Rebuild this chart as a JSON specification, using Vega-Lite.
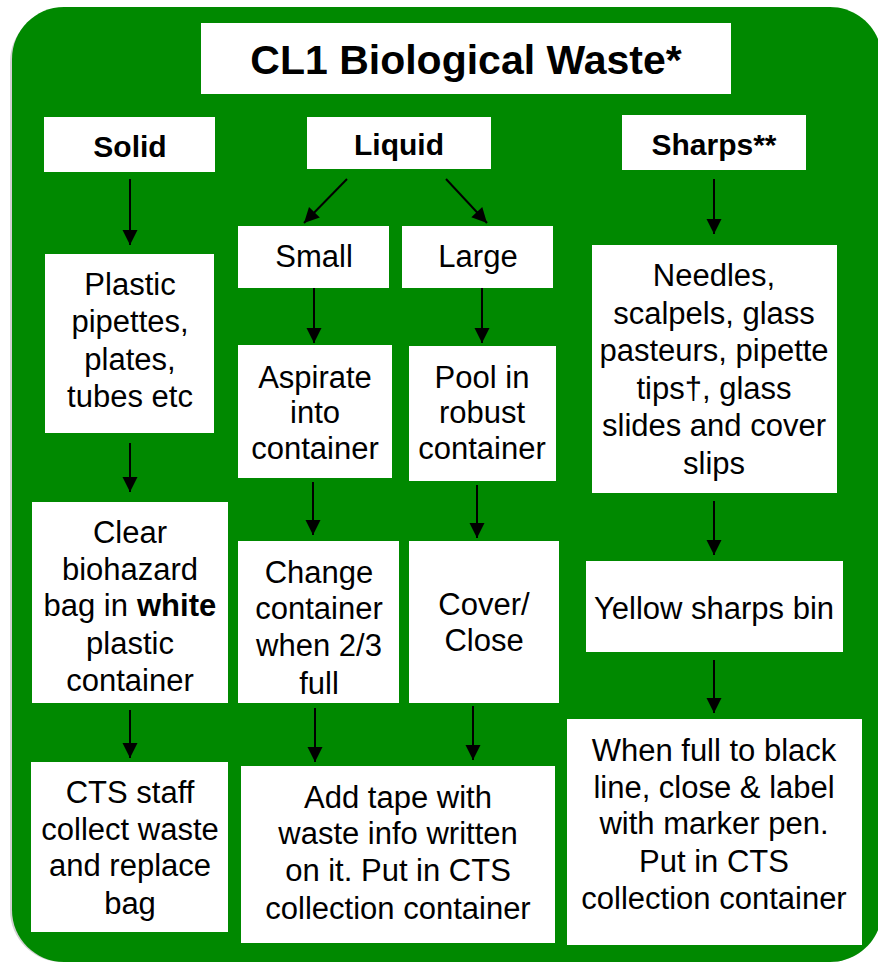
{
  "$schema": "https://vega.github.io/schema/vega-lite/v6.json",
  "width": 878,
  "height": 965,
  "autosize": "none",
  "padding": 0,
  "background": "white",
  "config": {"view": {"stroke": null}},
  "datasets": {
    "bg": [{"x1": 12, "x2": 882, "y1": 7, "y2": 962}],
    "boxes": [
      {"id": "title", "x1": 201, "x2": 731, "y1": 23, "y2": 94},
      {"id": "solid", "x1": 44, "x2": 215, "y1": 117, "y2": 172},
      {"id": "liquid", "x1": 307, "x2": 491, "y1": 117, "y2": 169},
      {"id": "sharps", "x1": 622, "x2": 806, "y1": 115, "y2": 170},
      {"id": "small", "x1": 238, "x2": 389, "y1": 226, "y2": 288},
      {"id": "large", "x1": 402, "x2": 553, "y1": 226, "y2": 288},
      {"id": "plastic", "x1": 45, "x2": 214, "y1": 254, "y2": 433},
      {"id": "clear", "x1": 32, "x2": 228, "y1": 502, "y2": 703},
      {"id": "cts", "x1": 31, "x2": 228, "y1": 762, "y2": 932},
      {"id": "aspirate", "x1": 238, "x2": 392, "y1": 345, "y2": 478},
      {"id": "pool", "x1": 409, "x2": 556, "y1": 346, "y2": 481},
      {"id": "change", "x1": 238, "x2": 399, "y1": 541, "y2": 703},
      {"id": "cover", "x1": 409, "x2": 559, "y1": 541, "y2": 703},
      {"id": "tape", "x1": 241, "x2": 555, "y1": 766, "y2": 943},
      {"id": "needles", "x1": 592, "x2": 837, "y1": 245, "y2": 493},
      {"id": "yellow", "x1": 586, "x2": 843, "y1": 561, "y2": 652},
      {"id": "full", "x1": 567, "x2": 862, "y1": 719, "y2": 945}
    ],
    "arrows": [
      {"x1": 130, "y1": 179, "x2": 130, "y2": 245, "angle": 0},
      {"x1": 130, "y1": 443, "x2": 130, "y2": 492, "angle": 0},
      {"x1": 130, "y1": 710, "x2": 130, "y2": 758, "angle": 0},
      {"x1": 347, "y1": 179, "x2": 304, "y2": 223, "angle": 44},
      {"x1": 446, "y1": 179, "x2": 487, "y2": 223, "angle": 317},
      {"x1": 314, "y1": 288, "x2": 314, "y2": 343, "angle": 0},
      {"x1": 482, "y1": 288, "x2": 482, "y2": 343, "angle": 0},
      {"x1": 313, "y1": 482, "x2": 313, "y2": 535, "angle": 0},
      {"x1": 477, "y1": 485, "x2": 477, "y2": 538, "angle": 0},
      {"x1": 315, "y1": 708, "x2": 315, "y2": 762, "angle": 0},
      {"x1": 473, "y1": 706, "x2": 473, "y2": 760, "angle": 0},
      {"x1": 714, "y1": 179, "x2": 714, "y2": 234, "angle": 0},
      {"x1": 714, "y1": 501, "x2": 714, "y2": 555, "angle": 0},
      {"x1": 714, "y1": 660, "x2": 714, "y2": 713, "angle": 0}
    ],
    "labels": [
      {"kind": "title", "text": "CL1 Biological Waste*", "x": 466, "y": 62},
      {"kind": "header", "text": "Solid", "x": 130, "y": 148},
      {"kind": "header", "text": "Liquid", "x": 399, "y": 146},
      {"kind": "header", "text": "Sharps**", "x": 714, "y": 146},
      {"kind": "body", "text": "Plastic", "x": 130, "y": 286},
      {"kind": "body", "text": "pipettes,", "x": 130, "y": 323},
      {"kind": "body", "text": "plates,", "x": 130, "y": 361},
      {"kind": "body", "text": "tubes etc", "x": 130, "y": 398},
      {"kind": "body", "text": "Clear", "x": 130, "y": 534},
      {"kind": "body", "text": "biohazard", "x": 130, "y": 571},
      {"kind": "bodyRight", "text": "bag in", "x": 128, "y": 607},
      {"kind": "boldLeft", "text": "white", "x": 137, "y": 607},
      {"kind": "body", "text": "plastic", "x": 130, "y": 645},
      {"kind": "body", "text": "container", "x": 130, "y": 682},
      {"kind": "body", "text": "CTS staff", "x": 130, "y": 794},
      {"kind": "body", "text": "collect waste", "x": 130, "y": 831},
      {"kind": "body", "text": "and replace", "x": 130, "y": 867},
      {"kind": "body", "text": "bag", "x": 130, "y": 905},
      {"kind": "body", "text": "Small", "x": 314, "y": 258},
      {"kind": "body", "text": "Large", "x": 478, "y": 258},
      {"kind": "body", "text": "Aspirate", "x": 315, "y": 379},
      {"kind": "body", "text": "into", "x": 315, "y": 414},
      {"kind": "body", "text": "container", "x": 315, "y": 450},
      {"kind": "body", "text": "Pool in", "x": 482, "y": 379},
      {"kind": "body", "text": "robust", "x": 482, "y": 414},
      {"kind": "body", "text": "container", "x": 482, "y": 450},
      {"kind": "body", "text": "Change", "x": 319, "y": 574},
      {"kind": "body", "text": "container", "x": 319, "y": 610},
      {"kind": "body", "text": "when 2/3", "x": 319, "y": 647},
      {"kind": "body", "text": "full", "x": 319, "y": 685},
      {"kind": "body", "text": "Cover/", "x": 484, "y": 606},
      {"kind": "body", "text": "Close", "x": 484, "y": 642},
      {"kind": "body", "text": "Add tape with", "x": 398, "y": 799},
      {"kind": "body", "text": "waste info written", "x": 398, "y": 835},
      {"kind": "body", "text": "on it. Put in CTS", "x": 398, "y": 872},
      {"kind": "body", "text": "collection container", "x": 398, "y": 910},
      {"kind": "body", "text": "Needles,", "x": 714, "y": 277},
      {"kind": "body", "text": "scalpels, glass", "x": 714, "y": 315},
      {"kind": "body", "text": "pasteurs, pipette", "x": 714, "y": 352},
      {"kind": "body", "text": "tips†, glass", "x": 714, "y": 390},
      {"kind": "body", "text": "slides and cover", "x": 714, "y": 427},
      {"kind": "body", "text": "slips", "x": 714, "y": 465},
      {"kind": "body", "text": "Yellow sharps bin", "x": 714, "y": 610},
      {"kind": "body", "text": "When full to black", "x": 714, "y": 752},
      {"kind": "body", "text": "line, close & label", "x": 714, "y": 789},
      {"kind": "body", "text": "with marker pen.", "x": 714, "y": 825},
      {"kind": "body", "text": "Put in CTS", "x": 714, "y": 863},
      {"kind": "body", "text": "collection container", "x": 714, "y": 900}
    ]
  },
  "layer": [
    {
      "data": {"name": "bg"},
      "mark": {"type": "rect", "color": "#9a9a9a", "opacity": 0.45, "cornerRadius": 52, "xOffset": -2, "yOffset": 3},
      "encoding": {
        "x": {"field": "x1", "type": "quantitative", "scale": {"domain": [0, 878], "nice": false, "zero": false}, "axis": null},
        "x2": {"field": "x2"},
        "y": {"field": "y1", "type": "quantitative", "scale": {"domain": [0, 965], "nice": false, "zero": false, "reverse": true}, "axis": null},
        "y2": {"field": "y2"}
      }
    },
    {
      "data": {"name": "bg"},
      "mark": {"type": "rect", "color": "#008900", "cornerRadius": 52},
      "encoding": {
        "x": {"field": "x1", "type": "quantitative"},
        "x2": {"field": "x2"},
        "y": {"field": "y1", "type": "quantitative"},
        "y2": {"field": "y2"}
      }
    },
    {
      "data": {"name": "boxes"},
      "mark": {"type": "rect", "color": "#ffffff"},
      "encoding": {
        "x": {"field": "x1", "type": "quantitative"},
        "x2": {"field": "x2"},
        "y": {"field": "y1", "type": "quantitative"},
        "y2": {"field": "y2"}
      }
    },
    {
      "data": {"name": "arrows"},
      "mark": {"type": "rule", "color": "#000000", "strokeWidth": 2},
      "encoding": {
        "x": {"field": "x1", "type": "quantitative"},
        "x2": {"field": "x2"},
        "y": {"field": "y1", "type": "quantitative"},
        "y2": {"field": "y2"}
      }
    },
    {
      "data": {"name": "arrows"},
      "mark": {"type": "point", "shape": "M-1,-2L1,-2L0,0Z", "filled": true, "color": "#000000", "opacity": 1, "size": 225, "strokeWidth": 0},
      "encoding": {
        "x": {"field": "x2", "type": "quantitative"},
        "y": {"field": "y2", "type": "quantitative"},
        "angle": {"field": "angle", "type": "quantitative", "scale": null}
      }
    },
    {
      "data": {"name": "labels"},
      "transform": [{"filter": "datum.kind === 'title'"}],
      "mark": {"type": "text", "font": "Liberation Sans", "fontWeight": "bold", "fontSize": 41, "align": "center", "baseline": "middle", "color": "#000000"},
      "encoding": {
        "x": {"field": "x", "type": "quantitative"},
        "y": {"field": "y", "type": "quantitative"},
        "text": {"field": "text"}
      }
    },
    {
      "data": {"name": "labels"},
      "transform": [{"filter": "datum.kind === 'header'"}],
      "mark": {"type": "text", "font": "Liberation Sans", "fontWeight": "bold", "fontSize": 30, "align": "center", "baseline": "middle", "color": "#000000"},
      "encoding": {
        "x": {"field": "x", "type": "quantitative"},
        "y": {"field": "y", "type": "quantitative"},
        "text": {"field": "text"}
      }
    },
    {
      "data": {"name": "labels"},
      "transform": [{"filter": "datum.kind === 'body'"}],
      "mark": {"type": "text", "font": "Liberation Sans", "fontSize": 31, "align": "center", "baseline": "middle", "color": "#000000"},
      "encoding": {
        "x": {"field": "x", "type": "quantitative"},
        "y": {"field": "y", "type": "quantitative"},
        "text": {"field": "text"}
      }
    },
    {
      "data": {"name": "labels"},
      "transform": [{"filter": "datum.kind === 'bodyRight'"}],
      "mark": {"type": "text", "font": "Liberation Sans", "fontSize": 31, "align": "right", "baseline": "middle", "color": "#000000"},
      "encoding": {
        "x": {"field": "x", "type": "quantitative"},
        "y": {"field": "y", "type": "quantitative"},
        "text": {"field": "text"}
      }
    },
    {
      "data": {"name": "labels"},
      "transform": [{"filter": "datum.kind === 'boldLeft'"}],
      "mark": {"type": "text", "font": "Liberation Sans", "fontWeight": "bold", "fontSize": 31, "align": "left", "baseline": "middle", "color": "#000000"},
      "encoding": {
        "x": {"field": "x", "type": "quantitative"},
        "y": {"field": "y", "type": "quantitative"},
        "text": {"field": "text"}
      }
    }
  ]
}
